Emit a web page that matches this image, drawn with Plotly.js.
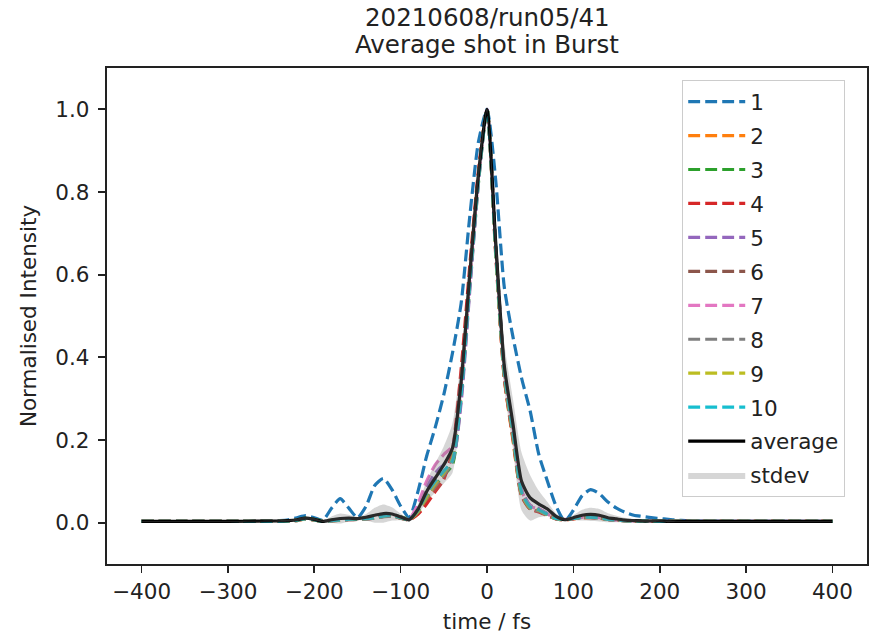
<!DOCTYPE html>
<html><head><meta charset="utf-8">
<script src="https://cdn.plot.ly/plotly-3.0.1.min.js"></script>
<style>html,body{margin:0;padding:0;background:#fff}#chart{width:872px;height:634px}</style>
</head><body><div id="chart"></div>
<script>
// time axis (fs)
const timeFs = [-400,-350,-300,-250,-240,-230,-220,-210,-200,-190,-180,-170,-160,-150,-140,-130,-120,-110,-100,-90,-80,-70,-60,-50,-40,-30,-20,-10,0,10,20,30,40,50,60,70,80,90,100,110,120,130,140,150,160,170,180,190,200,210,220,230,240,250,300,350,400];

const shot1 = [0.003,0.003,0.003,0.004, 0.005,0.007,0.012,0.017,0.012,0.006,0.035,0.058,0.035,0.012,0.04,0.09,0.107,0.08,0.04,0.012, 0.075,0.16,0.23,0.31,0.41,0.53,0.74,0.92, 1.0, 0.83,0.57,0.45,0.35,0.27,0.165,0.1,0.04,0.004, 0.03,0.065,0.08,0.07,0.05,0.035,0.025,0.018,0.015,0.012,0.01,0.008,0.006,0.005,0.004,0.004, 0.003,0.003,0.003];
const shot2 = [0.003,0.003,0.003,0.003, 0.003,0.004,0.005,0.009,0.006,0.003,0.004,0.006,0.008,0.01,0.011,0.013,0.015,0.017,0.011,0.007, 0.022,0.055,0.085,0.11,0.16,0.34,0.6,0.84, 1.0, 0.66,0.35,0.2,0.065,0.033,0.027,0.018,0.009,0.007, 0.009,0.012,0.012,0.011,0.008,0.006,0.005,0.004,0.004,0.003,0.003,0.003,0.003,0.003,0.003,0.003, 0.003,0.003,0.003];
const shot3 = [0.003,0.003,0.003,0.003, 0.003,0.004,0.007,0.011,0.008,0.004,0.006,0.008,0.009,0.01,0.011,0.013,0.017,0.02,0.014,0.01, 0.03,0.06,0.09,0.115,0.14,0.3,0.57,0.82, 1.0, 0.67,0.37,0.22,0.075,0.04,0.032,0.02,0.01,0.008, 0.01,0.013,0.014,0.012,0.009,0.006,0.005,0.004,0.004,0.004,0.003,0.003,0.003,0.003,0.003,0.003, 0.003,0.003,0.003];
const shot4 = [0.003,0.003,0.003,0.003, 0.003,0.004,0.006,0.01,0.007,0.003,0.005,0.006,0.007,0.008,0.009,0.011,0.015,0.017,0.011,0.007, 0.02,0.045,0.075,0.105,0.175,0.37,0.62,0.85, 1.0, 0.65,0.35,0.205,0.065,0.033,0.026,0.017,0.009,0.007, 0.009,0.012,0.012,0.011,0.008,0.006,0.005,0.004,0.004,0.003,0.003,0.003,0.003,0.003,0.003,0.003, 0.003,0.003,0.003];
const shot5 = [0.003,0.003,0.003,0.003, 0.003,0.004,0.006,0.01,0.007,0.003,0.005,0.007,0.008,0.009,0.01,0.012,0.016,0.019,0.013,0.009, 0.04,0.085,0.12,0.14,0.15,0.29,0.56,0.82, 1.0, 0.67,0.37,0.23,0.08,0.042,0.034,0.022,0.011,0.008, 0.01,0.013,0.013,0.012,0.008,0.006,0.005,0.004,0.004,0.004,0.003,0.003,0.003,0.003,0.003,0.003, 0.003,0.003,0.003];
const shot6 = [0.003,0.003,0.003,0.003, 0.003,0.004,0.006,0.01,0.007,0.003,0.005,0.007,0.008,0.009,0.01,0.012,0.016,0.018,0.012,0.008, 0.028,0.065,0.095,0.12,0.155,0.32,0.59,0.835, 1.0, 0.665,0.36,0.215,0.07,0.036,0.03,0.02,0.01,0.008, 0.01,0.013,0.013,0.012,0.008,0.006,0.005,0.004,0.004,0.004,0.003,0.003,0.003,0.003,0.003,0.003, 0.003,0.003,0.003];
const shot7 = [0.003,0.003,0.003,0.003, 0.003,0.004,0.006,0.01,0.007,0.003,0.005,0.007,0.008,0.009,0.01,0.012,0.016,0.018,0.012,0.009, 0.045,0.1,0.14,0.165,0.185,0.33,0.58,0.83, 1.0, 0.67,0.37,0.225,0.078,0.04,0.033,0.021,0.01,0.008, 0.01,0.013,0.013,0.012,0.008,0.006,0.005,0.004,0.004,0.004,0.003,0.003,0.003,0.003,0.003,0.003, 0.003,0.003,0.003];
const shot8 = [0.003,0.003,0.003,0.003, 0.003,0.003,0.005,0.009,0.006,0.003,0.004,0.006,0.007,0.008,0.009,0.011,0.014,0.016,0.011,0.007, 0.025,0.06,0.09,0.115,0.15,0.31,0.58,0.83, 1.0, 0.66,0.355,0.21,0.068,0.034,0.028,0.018,0.009,0.007, 0.01,0.013,0.013,0.012,0.008,0.006,0.005,0.004,0.004,0.004,0.003,0.003,0.003,0.003,0.003,0.003, 0.003,0.003,0.003];
const shot9 = [0.003,0.003,0.003,0.003, 0.003,0.004,0.006,0.01,0.007,0.003,0.005,0.007,0.008,0.009,0.01,0.012,0.016,0.018,0.012,0.008, 0.026,0.062,0.094,0.12,0.155,0.33,0.59,0.835, 1.0, 0.66,0.36,0.215,0.07,0.036,0.03,0.019,0.01,0.008, 0.01,0.013,0.013,0.012,0.008,0.006,0.005,0.004,0.004,0.004,0.003,0.003,0.003,0.003,0.003,0.003, 0.003,0.003,0.003];
const shot10 = [0.003,0.003,0.003,0.003, 0.003,0.004,0.006,0.01,0.007,0.003,0.005,0.007,0.008,0.009,0.01,0.012,0.016,0.018,0.012,0.008, 0.03,0.07,0.1,0.125,0.15,0.31,0.58,0.83, 1.0, 0.665,0.365,0.22,0.074,0.038,0.031,0.02,0.01,0.008, 0.01,0.013,0.013,0.012,0.008,0.006,0.005,0.004,0.004,0.004,0.003,0.003,0.003,0.003,0.003,0.003, 0.003,0.003,0.003];

const average = [0.003,0.003,0.003,0.004, 0.004,0.005,0.007,0.011,0.008,0.003,0.007,0.01,0.011,0.01,0.013,0.018,0.022,0.021,0.014,0.007, 0.032,0.075,0.108,0.14,0.18,0.34,0.6,0.84, 1.0, 0.68,0.38,0.24,0.1,0.06,0.045,0.033,0.015,0.007, 0.012,0.018,0.02,0.018,0.012,0.009,0.006,0.005,0.004,0.004,0.004,0.003,0.003,0.003,0.003,0.003, 0.003,0.003,0.003];
const stdev = [0.001,0.001,0.001,0.001, 0.002,0.002,0.003,0.004,0.003,0.002,0.008,0.012,0.008,0.004,0.008,0.018,0.022,0.016,0.008,0.004, 0.012,0.025,0.035,0.045,0.06,0.055,0.05,0.03, 0.004, 0.045,0.055,0.06,0.07,0.055,0.032,0.017,0.007,0.003, 0.006,0.013,0.016,0.015,0.011,0.008,0.006,0.004,0.003,0.003,0.002,0.002,0.001,0.001,0.001,0.001, 0.001,0.001,0.001];

const shots = [shot1,shot2,shot3,shot4,shot5,shot6,shot7,shot8,shot9,shot10];
const shotNames = ['1','2','3','4','5','6','7','8','9','10'];
const shotColors = ['#1f77b4','#ff7f0e','#2ca02c','#d62728','#9467bd','#8c564b','#e377c2','#7f7f7f','#bcbd22','#17becf'];
const xTickVals = [-400,-300,-200,-100,0,100,200,300,400];
const xTickText = ['\u2212400','\u2212300','\u2212200','\u2212100','0','100','200','300','400'];
const yTickVals = [0,0.2,0.4,0.6,0.8,1.0];
const yTickText = ['0.0','0.2','0.4','0.6','0.8','1.0'];

const FONT = 'DejaVu Sans, Liberation Sans, sans-serif';
const TXT = '#222222';

const traces = [];
shots.forEach((s, i) => {
  traces.push({
    x: timeFs, y: s, type: 'scatter', mode: 'lines', name: shotNames[i],
    legendgroup: 'g' + i,
    line: {color: shotColors[i], width: 3.2, dash: '11.9px,5.1px', shape: 'spline', smoothing: 0.6}
  });
});
traces.push({
  x: timeFs, y: average, type: 'scatter', mode: 'lines', name: 'average',
  legendgroup: 'avg',
  line: {color: '#000000', width: 3.2, shape: 'spline', smoothing: 0.6}
});
traces.push({
  x: timeFs, y: average.map((v, i) => v - stdev[i]), type: 'scatter', mode: 'lines',
  showlegend: false, legendgroup: 'sd', hoverinfo: 'skip',
  line: {width: 0, color: 'rgba(128,128,128,0)', shape: 'spline', smoothing: 0.6}
});
traces.push({
  x: timeFs, y: average.map((v, i) => v + stdev[i]), type: 'scatter', mode: 'lines',
  name: 'stdev', legendgroup: 'sd', fill: 'tonexty', fillcolor: 'rgba(128,128,128,0.32)',
  line: {width: 0, color: 'rgba(128,128,128,0)', shape: 'spline', smoothing: 0.6}
});

const axisCommon = {
  showline: true, linecolor: TXT, linewidth: 1.7, mirror: true,
  ticks: 'outside', ticklen: 7.5, tickwidth: 1.7, tickcolor: TXT,
  showgrid: false, zeroline: false,
  tickfont: {family: FONT, size: 21.5, color: TXT}
};

const layout = {
  width: 872, height: 634,
  margin: {l: 107, r: 5, t: 68, b: 70},
  paper_bgcolor: '#ffffff', plot_bgcolor: '#ffffff',
  font: {family: FONT, color: TXT},
  showlegend: true,
  xaxis: Object.assign({}, axisCommon, {
    range: [-440, 440], tickmode: 'array', tickvals: xTickVals, ticktext: xTickText,
    title: {text: 'time / fs', font: {family: FONT, size: 21.5, color: TXT}, standoff: 11}
  }),
  yaxis: Object.assign({}, axisCommon, {
    range: [-0.1, 1.1], tickmode: 'array', tickvals: yTickVals, ticktext: yTickText,
    ticklabelstandoff: 4,
    title: {text: 'Normalised Intensity', font: {family: FONT, size: 21.5, color: TXT}, standoff: 13}
  }),
  legend: {
    x: 0.7566, y: 0.976, xanchor: 'left', yanchor: 'top',
    bgcolor: 'rgba(255,255,255,0.8)', bordercolor: '#cccccc', borderwidth: 1.2,
    font: {family: FONT, size: 21.5, color: TXT},
    traceorder: 'grouped', tracegroupgap: 3, itemwidth: 57,
    entrywidth: 175, entrywidthmode: 'pixels'
  },
  annotations: [
    {text: '20210608/run05/41', xref: 'paper', yref: 'paper', x: 0.5, y: 1.1018, xanchor: 'center', yanchor: 'middle',
     showarrow: false, font: {family: FONT, size: 24.5, color: TXT}},
    {text: 'Average shot in Burst', xref: 'paper', yref: 'paper', x: 0.5, y: 1.0464, xanchor: 'center', yanchor: 'middle',
     showarrow: false, font: {family: FONT, size: 24.5, color: TXT}}
  ],
  hovermode: false
};

Plotly.newPlot('chart', traces, layout, {displayModeBar: false, staticPlot: true});
</script>
</body></html>
